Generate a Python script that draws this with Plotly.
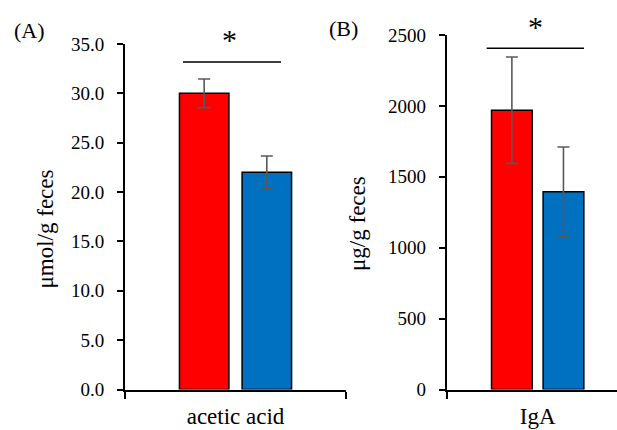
import plotly.graph_objects as go

W, H = 617, 430

# ---- data ----
groups = ["Group 1", "Group 2"]
colors = ["#FF0000", "#0070C0"]

cat_a = ["acetic acid"]
acetic_means = [30.0, 22.0]
acetic_err = [1.45, 1.65]

cat_b = ["IgA"]
iga_means = [1970, 1395]
iga_err = [375, 315]

ytick_a = [0, 5, 10, 15, 20, 25, 30, 35]
ytick_b = [0, 500, 1000, 1500, 2000, 2500]

FONT = "Liberation Serif"


def px_x(p):
    return p / W


def px_y(p):
    return 1 - p / H


fig = go.Figure()

for i in range(2):
    fig.add_trace(go.Bar(
        x=cat_a, y=[acetic_means[i]], name=groups[i],
        marker=dict(color=colors[i], line=dict(color="black", width=1.5)),
        error_y=dict(type="data", array=[acetic_err[i]], color="#595959",
                     thickness=1.6, width=6),
        xaxis="x", yaxis="y", offsetgroup=str(i), showlegend=False,
    ))
for i in range(2):
    fig.add_trace(go.Bar(
        x=cat_b, y=[iga_means[i]], name=groups[i],
        marker=dict(color=colors[i], line=dict(color="black", width=1.5)),
        error_y=dict(type="data", array=[iga_err[i]], color="#595959",
                     thickness=1.6, width=6),
        xaxis="x2", yaxis="y2", offsetgroup=str(i), showlegend=False,
    ))

axis_common = dict(showgrid=False, zeroline=False, showline=True,
                   linecolor="black", linewidth=2, ticks="outside",
                   tickcolor="black", tickwidth=1.5, automargin=False)

fig.update_layout(
    width=W, height=H,
    margin=dict(l=0, r=0, t=0, b=0, autoexpand=False),
    paper_bgcolor="white", plot_bgcolor="white",
    barmode="group", bargap=0.433, bargroupgap=0.21,
    font=dict(family=FONT, color="black", size=19),
    xaxis=dict(domain=[px_x(125), px_x(346)], anchor="y", type="category",
               range=[-0.5, 0.5], tickson="boundaries", ticklen=7,
               ticklabelstandoff=5,
               tickfont=dict(size=23, family=FONT), **axis_common),
    yaxis=dict(domain=[px_y(389.5), px_y(44)], anchor="x", range=[0, 35],
               tickvals=ytick_a, tickformat=".1f", ticklen=6,
               ticklabelstandoff=9,
               tickfont=dict(size=19, family=FONT), **axis_common),
    xaxis2=dict(domain=[px_x(446.7), 1.0], anchor="y2", type="category",
                range=[-0.5, 0.436], tickson="boundaries", ticklen=7,
                ticklabelstandoff=5,
                tickfont=dict(size=23, family=FONT), **axis_common),
    yaxis2=dict(domain=[px_y(389.5), px_y(35)], anchor="x2", range=[0, 2500],
                tickvals=ytick_b, tickformat="d", ticklen=6,
                ticklabelstandoff=9,
                tickfont=dict(size=19, family=FONT), **axis_common),
)

# significance bars
fig.add_shape(type="line", xref="paper", yref="paper",
              x0=px_x(183), x1=px_x(281), y0=px_y(62), y1=px_y(62),
              line=dict(color="black", width=1.6))
fig.add_shape(type="line", xref="paper", yref="paper",
              x0=px_x(486.7), x1=px_x(584), y0=px_y(48.3), y1=px_y(48.3),
              line=dict(color="black", width=1.6))

ann = [
    dict(text="(A)", x=px_x(29), y=px_y(31), size=22, angle=0),
    dict(text="(B)", x=px_x(343), y=px_y(29), size=22, angle=0),
    dict(text="*", x=px_x(229), y=px_y(39), size=30, angle=0),
    dict(text="*", x=px_x(535), y=px_y(26), size=30, angle=0),
    dict(text="μmol/g feces", x=px_x(45), y=px_y(228.5), size=23, angle=-90),
    dict(text="μg/g feces", x=px_x(357), y=px_y(224), size=23, angle=-90),
]
for a in ann:
    fig.add_annotation(text=a["text"], x=a["x"], y=a["y"], xref="paper",
                       yref="paper", showarrow=False, textangle=a["angle"],
                       xanchor="center", yanchor="middle",
                       font=dict(family=FONT, size=a["size"], color="black"))

fig.write_html(
    "out.html",
    config={"displayModeBar": False},
    post_script="document.body.style.margin='0';document.body.style.overflow='hidden';",
)
